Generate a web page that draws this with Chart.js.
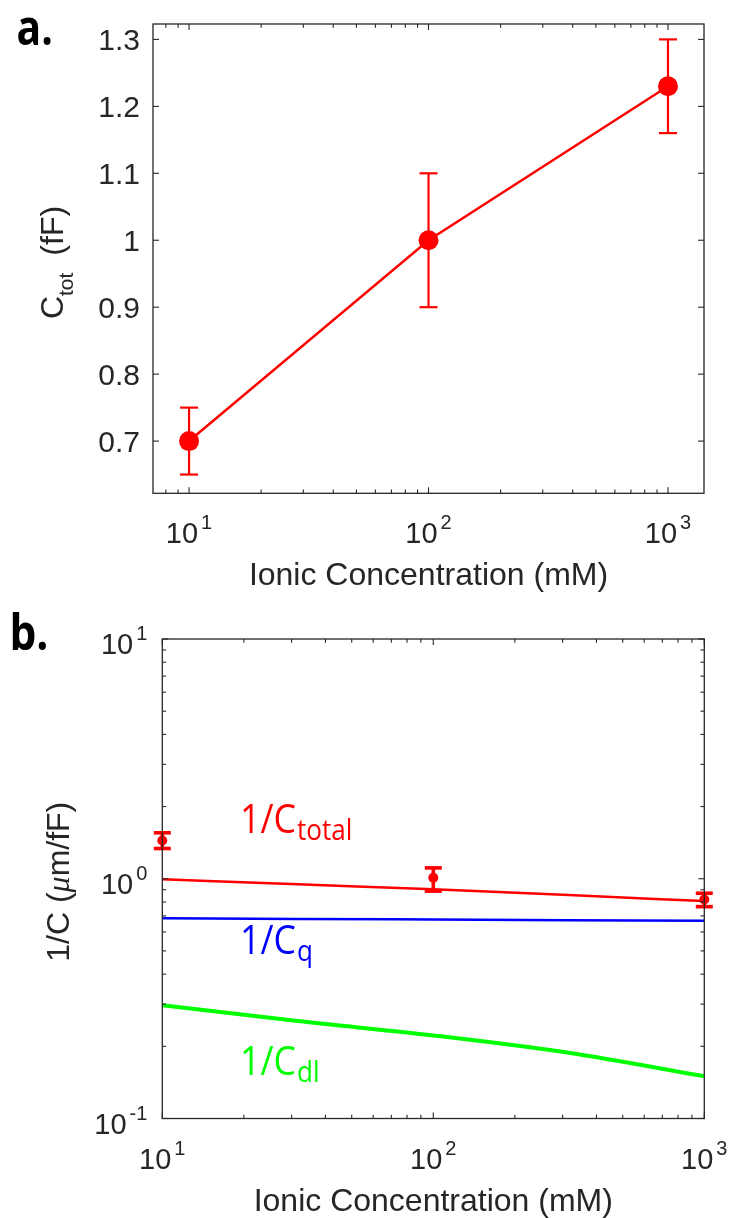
<!DOCTYPE html>
<html>
<head>
<meta charset="utf-8">
<script src="https://cdn.jsdelivr.net/npm/chart.js@4.4.0/dist/chart.umd.min.js"></script>
<style>
html,body{margin:0;padding:0;background:#fff;}
#wrap{position:relative;width:735px;height:1218px;}
canvas{position:absolute;left:0;}
#ca{top:0}
#cb{top:609px}
</style>
</head>
<body>
<div id="wrap">
<canvas id="ca" width="735" height="609"></canvas>
<canvas id="cb" width="735" height="609"></canvas>
</div>
<script>
// panel a - total capacitance vs concentration
const concA=[10,100,1000]
const ctot=[0.70,1.00,1.23]
const ctotLo=[0.65,0.90,1.16]
const ctotHi=[0.75,1.10,1.30]
const aYTicks=[0.7,0.8,0.9,1,1.1,1.2,1.3]
const aYLabels=['0.7','0.8','0.9','1','1.1','1.2','1.3']
const xTicks=[10,100,1000]
const xExp=['1','2','3']

// panel b - inverse capacitances
const concB=[10,31.6,100,316,1000]
const invTotal=[0.995,0.948,0.905,0.855,0.807]
const invQ=[0.685,0.680,0.676,0.672,0.668]
const invDl=[0.297,0.255,0.222,0.188,0.150]
const measConc=[10,100,1000]
const invMeas=[1.445,1.01,0.82]
const invMeasLo=[1.337,0.888,0.765]
const invMeasHi=[1.555,1.11,0.87]
const bYTicks=[0.1,1,10]
const bYExp=['-1','0','1']

const AX='#262626'
const TF='"Liberation Sans", Arial, sans-serif'
const LF='"Open Sans", "Noto Sans", sans-serif'

function pts(xs,ys){return xs.map((x,i)=>({x:x,y:ys[i]}))}

function seg(ctx,x1,y1,x2,y2){ctx.beginPath();ctx.moveTo(x1,y1);ctx.lineTo(x2,y2);ctx.stroke()}

function logMinors(min,max){
  var out=[]
  for(var d=-2;d<5;d++){
    for(var k=2;k<10;k++){
      var v=k*Math.pow(10,d)
      if(v>min&&v<max) out.push(v)
    }
  }
  return out
}

function pow10(ctx,exp,x,y,align){
  ctx.font='29px '+TF
  var w1=ctx.measureText('10').width
  ctx.font='20px '+TF
  var w2=ctx.measureText(exp).width
  var gap=3
  var left=align==='center'?x-(w1+gap+w2)/2:x-(w1+gap+w2)
  ctx.fillStyle=AX
  ctx.textAlign='left'
  ctx.textBaseline='alphabetic'
  ctx.font='29px '+TF
  ctx.fillText('10',left,y)
  ctx.font='20px '+TF
  ctx.fillText(exp,left+w1+gap,y-14)
}

function sText(ctx,txt,x,y,font,color,sx){
  ctx.save()
  ctx.translate(x,y)
  ctx.scale(sx,1)
  ctx.font=font
  ctx.fillStyle=color
  ctx.textAlign='left'
  ctx.textBaseline='alphabetic'
  ctx.fillText(txt,0,0)
  var w=ctx.measureText(txt).width*sx
  ctx.restore()
  return w
}

function subLabel(ctx,main,sub,x,y,color){
  var w=sText(ctx,main,x,y,'41px '+LF,color,0.87)
  sText(ctx,sub,x+w+1,y+7,'30px '+LF,color,0.87)
}

function errBars(chart,xs,lo,hi,capW,lw,color){
  var ctx=chart.ctx,sx=chart.scales.x,sy=chart.scales.y
  ctx.save()
  ctx.strokeStyle=color
  ctx.lineWidth=lw
  xs.forEach((x,i)=>{
    var px=sx.getPixelForValue(x)
    var p1=sy.getPixelForValue(lo[i]),p2=sy.getPixelForValue(hi[i])
    seg(ctx,px,p1,px,p2)
    seg(ctx,px-capW/2,p1,px+capW/2,p1)
    seg(ctx,px-capW/2,p2,px+capW/2,p2)
  })
  ctx.restore()
}

function frame(chart,xMajor,xMinor,yMajor,yMinor){
  var ctx=chart.ctx,a=chart.chartArea,sx=chart.scales.x,sy=chart.scales.y
  ctx.save()
  ctx.strokeStyle=AX
  ctx.lineWidth=1.3
  ctx.strokeRect(a.left,a.top,a.right-a.left,a.bottom-a.top)
  ctx.lineWidth=1.1
  xMajor.concat(xMinor).forEach(v=>{
    var L=xMajor.indexOf(v)>=0?6:3.8
    var p=sx.getPixelForValue(v)
    seg(ctx,p,a.bottom,p,a.bottom-L)
    seg(ctx,p,a.top,p,a.top+L)
  })
  yMajor.concat(yMinor).forEach(v=>{
    var L=yMajor.indexOf(v)>=0?6:3.8
    var p=sy.getPixelForValue(v)
    seg(ctx,a.left,p,a.left+L,p)
    seg(ctx,a.right,p,a.right-L,p)
  })
  ctx.restore()
}

const panelA={
  id:'panelA',
  afterDatasetsDraw(chart){
    errBars(chart,concA,ctotLo,ctotHi,18,2.2,'#ff0000')
  },
  afterDraw(chart){
    var ctx=chart.ctx,a=chart.chartArea,sx=chart.scales.x,sy=chart.scales.y
    frame(chart,xTicks,logMinors(sx.min,sx.max),aYTicks,[])
    ctx.save()
    ctx.fillStyle=AX
    ctx.font='30px '+TF
    ctx.textAlign='right'
    ctx.textBaseline='alphabetic'
    aYTicks.forEach((v,i)=>ctx.fillText(aYLabels[i],a.left-13,sy.getPixelForValue(v)+11))
    xTicks.forEach((v,i)=>pow10(ctx,xExp[i],sx.getPixelForValue(v),a.bottom+50,'center'))
    ctx.font='32px '+TF
    ctx.textAlign='center'
    ctx.fillText('Ionic Concentration (mM)',(a.left+a.right)/2,585)
    // y title
    ctx.save()
    ctx.translate(63,262.5)
    ctx.rotate(-Math.PI/2)
    ctx.textAlign='left'
    ctx.font='32px '+TF
    var wC=ctx.measureText('C').width
    ctx.font='21px '+TF
    var wT=ctx.measureText('tot').width
    ctx.font='32px '+TF
    var wF=ctx.measureText('(fF)').width
    var tot=wC+wT+17+wF
    var x0=-tot/2
    ctx.fillText('C',x0,0)
    ctx.font='21px '+TF
    ctx.fillText('tot',x0+wC,10)
    ctx.font='32px '+TF
    ctx.fillText('(fF)',x0+wC+wT+17,0)
    ctx.restore()
    sText(ctx,'a.',16.5,45,'bold 48px '+LF,'#000',0.85)
    ctx.restore()
  }
}

const panelB={
  id:'panelB',
  afterDatasetsDraw(chart){
    errBars(chart,measConc,invMeasLo,invMeasHi,17,3.6,'#ff0000')
  },
  afterDraw(chart){
    var ctx=chart.ctx,a=chart.chartArea,sx=chart.scales.x,sy=chart.scales.y
    frame(chart,xTicks,logMinors(sx.min,sx.max),bYTicks,logMinors(sy.min,sy.max))
    ctx.save()
    bYTicks.forEach((v,i)=>pow10(ctx,bYExp[i],a.left-15,sy.getPixelForValue(v)+15,'right'))
    xTicks.forEach((v,i)=>pow10(ctx,xExp[i],sx.getPixelForValue(v),a.bottom+50,'center'))
    ctx.fillStyle=AX
    ctx.font='32px '+TF
    ctx.textAlign='center'
    ctx.fillText('Ionic Concentration (mM)',(a.left+a.right)/2,602)
    // y title
    ctx.save()
    ctx.translate(69,(a.top+a.bottom)/2+3)
    ctx.rotate(-Math.PI/2)
    ctx.textAlign='left'
    var parts=[['1/C (','32px '+TF],['\u03bc','italic 32px "Liberation Serif", serif'],['m/fF)','32px '+TF]]
    var tw=0
    parts.forEach(p=>{ctx.font=p[1];tw+=ctx.measureText(p[0]).width})
    var xx=-tw/2
    parts.forEach(p=>{ctx.font=p[1];ctx.fillText(p[0],xx,0);xx+=ctx.measureText(p[0]).width})
    ctx.restore()
    // curve labels
    subLabel(ctx,'1/C','total',240,833-609,'#ff0000')
    subLabel(ctx,'1/C','q',240,954-609,'#0000ff')
    subLabel(ctx,'1/C','dl',240,1075-609,'#00ff00')
    sText(ctx,'b.',9.4,41,'bold 50px '+LF,'#000',0.85)
    ctx.restore()
  }
}

const common={
  responsive:false,
  animation:false,
  events:[],
  plugins:{legend:{display:false},tooltip:{enabled:false}}
}

new Chart(document.getElementById('ca'),{
  type:'line',
  data:{datasets:[{
    data:pts(concA,ctot),
    borderColor:'#ff0000',
    backgroundColor:'#ff0000',
    borderWidth:2.5,
    pointRadius:10,
    pointBorderWidth:0,
    tension:0,
    clip:false
  }]},
  options:Object.assign({},common,{
    layout:{padding:{left:153,right:31,top:24,bottom:115.7},autoPadding:false},
    scales:{
      x:{type:'logarithmic',min:7.07,max:1414,display:false},
      y:{type:'linear',min:0.622,max:1.323,display:false}
    }
  }),
  plugins:[panelA]
})

new Chart(document.getElementById('cb'),{
  type:'line',
  data:{datasets:[
    {data:pts(measConc,invMeas),showLine:false,borderColor:'#ff0000',backgroundColor:'#ff0000',pointRadius:5,pointBorderWidth:0,clip:false},
    {data:pts(concB,invTotal),borderColor:'#ff0000',borderWidth:2.5,pointRadius:0,cubicInterpolationMode:'monotone',clip:false},
    {data:pts(concB,invQ),borderColor:'#0000ff',borderWidth:2.5,pointRadius:0,cubicInterpolationMode:'monotone',clip:false},
    {data:pts(concB,invDl),borderColor:'#00ff00',borderWidth:4,pointRadius:0,cubicInterpolationMode:'monotone',clip:false}
  ]},
  options:Object.assign({},common,{
    layout:{padding:{left:162.3,right:30.7,top:30,bottom:99.5},autoPadding:false},
    scales:{
      x:{type:'logarithmic',min:10,max:1000,display:false},
      y:{type:'logarithmic',min:0.1,max:10,display:false}
    }
  }),
  plugins:[panelB]
})
</script>
</body>
</html>
